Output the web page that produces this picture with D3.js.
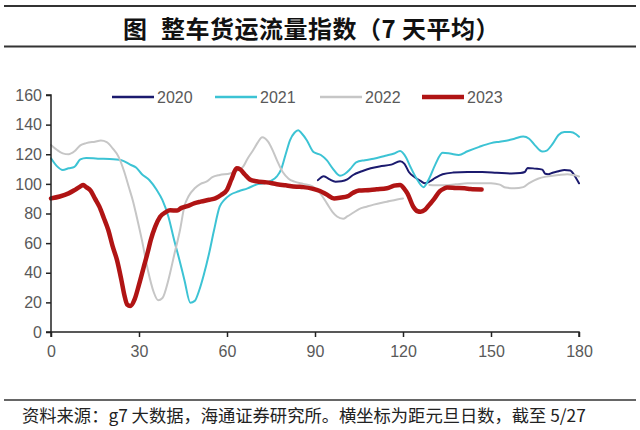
<!DOCTYPE html>
<html><head><meta charset="utf-8">
<script src="https://cdn.jsdelivr.net/npm/d3@7"></script>
<style>
html,body{margin:0;padding:0;background:#fff;}
svg{display:block;}
</style></head>
<body>
<svg id="chart" width="640" height="430"></svg>
<script>
// ---- data ----
const titleLead = "图";
const titleText = "整车货运流量指数（7 天平均）";
const sourceText = "资料来源：g7 大数据，海通证券研究所。横坐标为距元旦日数，截至 5/27";
const seriesNames = ["2020", "2021", "2022", "2023"];
const xTicks = [0, 30, 60, 90, 120, 150, 180];
const yTicks = [0, 20, 40, 60, 80, 100, 120, 140, 160];

const days2020 = [91,93,95,97,99,101,103,106,109,112,116,119,120.5,122,124,126,127.5,129,131,133.5,137,142,147,152,157,160,161.5,162.5,165,167.5,168.5,169.5,171,173,175,177,178.5,180];
const vals2020 = [102.5,105.2,103,101.5,101.8,103,106,108.5,110.5,111.8,113,115.2,113.5,108,104.5,102,100.4,101.5,104,106.5,107.6,108,108,107.5,107,107.3,108,110.8,110.3,109.6,106.8,106.5,107.5,108.5,109.4,109,105.5,100.4];

const days2021 = [0,2,4,6,8,10,12,16,20,24,27,29,31,33.5,36,38,40,42,44,45.5,47.5,49,50.5,52,54,55.5,57.5,59,61,64,67,70,72.5,75,77,78.5,80,81.5,83,84.3,85.5,87.2,89.5,92,94,96,98.5,100,102,104,107,110,114,117,119,121,122.5,124.5,127,129,131,133.5,136,139,142,146,150,153,156,158,161,163,165,167.5,169,171,173,175,177,179,180];
const vals2021 = [117.3,112,109.4,110.5,111.5,116.5,117.5,117,116.8,116,113,111,106.5,102.6,96,89,78,62,47,35,19.8,21,28,38,54,68,84.6,89,92.5,95,97,99.5,100.4,102,105,110,120,129.6,134.5,136.2,134,129.5,121.5,119.5,116,110.5,105.5,106.5,110,114.5,116,117,119,120.5,122.2,118,111.6,104,97.8,104,113,121,120.5,119.5,122,125,127.5,128.5,129.5,130.5,132,130.5,126,121.8,122.5,127,133,135,135,133.5,131.8];

const days2022 = [0,2,4,6,8,10,12,15,17,19,21,23,25,26.5,28,29.2,31,33,35,36.5,38,40,42,44,45.5,47,49,51,53,55,57.5,61,64,65.5,67,69,70.5,72,74,75.5,77,79,81,83,86,89,92,94,96,97.5,99.6,101,103,105,107.6,110,114.5,118,120,null,129,131,134,138,142,146,150,153,155,158,161,163,166,169,173,176,178,180];
const vals2022 = [126.3,123,120.6,120,122,126,127.5,128.5,129.2,128.2,124,118.4,108,98,88,78,62,42,27,21.5,23,35,52,69,85,92,97,100,101.5,104.5,106,107,109.5,111.6,117,123,128,131.5,128.5,123,116,108,103.5,101.5,100,98.5,93,87,81,78,76.5,78,80.5,83,84.6,86,88,89.5,90.2,null,99.3,99,99,99.7,100.4,100.5,100.4,99.5,97.5,97,97.8,100.5,103.5,105,106,106.5,106,105];

const days2023 = [0,3,6,8,10,11,12,13.5,15,16.5,18,19.5,21,22.5,24,25,26,27,28.5,30,31.5,33,34,35.5,37.2,39,40.6,43,44.5,46.5,49,51,54,56,58,60,61.5,63.3,64.5,66,67.8,70,73.5,77,80,83.8,86,89,91.7,94,96.5,99,101,103,105,108.8,111,114.5,117,119,120.5,121.5,123.5,125,126,127.5,129,130.5,132.5,134,135,138,141,143,146.8];
const vals2023 = [90.2,91.5,93.6,95.8,98.3,99.2,97.8,95.5,90,84.6,77,69,58,48.5,35,25,18.5,17.5,22,32,43,54,62,71,77.8,80.8,82.2,82,83.8,85,87,88,89.3,90.2,92.5,96,103,110.5,109.8,106.5,103,101.8,101,99.8,99,98.1,97.8,96.8,95.2,92.8,90.2,90.8,91.5,94,95.5,95.9,96.3,97,98.8,99.3,96.5,93.6,84.6,81.5,81.2,82.5,86,89.5,95,96.8,97.5,97.2,97,96.5,96.2];

const seriesDays = [days2020, days2021, days2022, days2023];
const seriesVals = [vals2020, vals2021, vals2022, vals2023];
const colors = ["#1b1a6e", "#3cc3d4", "#c6c6c6", "#b01414"];
const widths = [2, 2, 2, 4.5];

// ---- layout ----
const svg = d3.select("#chart");
const x = d3.scaleLinear().domain([0, 180]).range([51, 579]);
const y = d3.scaleLinear().domain([0, 160]).range([332, 95]);
const textColor = "#595959";
const latin = "'Liberation Sans', Arial, sans-serif";
const cjk = "'Noto Sans CJK SC', sans-serif";

// header rules & title
svg.append("line").attr("x1", 4).attr("x2", 636).attr("y1", 6).attr("y2", 6)
  .attr("stroke", "#333").attr("stroke-width", 2);
svg.append("line").attr("x1", 4).attr("x2", 636).attr("y1", 46.5).attr("y2", 46.5)
  .attr("stroke", "#333").attr("stroke-width", 2);
svg.append("text").attr("x", 123).attr("y", 27)
  .attr("dominant-baseline", "central")
  .attr("font-family", cjk).attr("font-weight", "bold").attr("font-size", 24)
  .attr("fill", "#111").text(titleLead);
svg.append("text").attr("x", 161).attr("y", 27)
  .attr("dominant-baseline", "central")
  .attr("font-family", cjk).attr("font-weight", "bold").attr("font-size", 24)
  .attr("letter-spacing", 0.5)
  .attr("fill", "#111").text(titleText);

// lines
seriesNames.forEach((name, i) => {
  const data = seriesDays[i].map((d, j) => ({d: d, v: seriesVals[i][j]}));
  const line = d3.line()
    .defined(p => p.d !== null && p.v !== null)
    .x(p => x(p.d)).y(p => y(p.v))
    .curve(d3.curveMonotoneX);
  svg.append("path").datum(data)
    .attr("fill", "none").attr("stroke", colors[i])
    .attr("stroke-width", widths[i]).attr("stroke-linejoin", "round").attr("stroke-linecap", "round")
    .attr("d", line);
});

// axes
const yAxis = svg.append("g").attr("transform", "translate(51,0)")
  .call(d3.axisLeft(y).tickValues(yTicks).tickSize(5).tickPadding(4));
const xAxis = svg.append("g").attr("transform", "translate(0,332)")
  .call(d3.axisBottom(x).tickValues(xTicks).tickSize(5).tickPadding(9));
[yAxis, xAxis].forEach(g => {
  g.select(".domain").attr("stroke", "#222").attr("stroke-width", 1.5);
  g.selectAll(".tick line").attr("stroke", "#222").attr("stroke-width", 1.5);
  g.selectAll(".tick text").attr("fill", textColor).attr("font-family", latin).attr("font-size", 16);
});
yAxis.select(".domain").attr("d", "M-5,95H0V332H-5");
xAxis.select(".domain").attr("d", "M51,5V0H579V5");

// legend
const legX = [112, 215, 320, 422];
seriesNames.forEach((name, i) => {
  svg.append("line").attr("x1", legX[i]).attr("x2", legX[i] + 42)
    .attr("y1", 97).attr("y2", 97)
    .attr("stroke", colors[i]).attr("stroke-width", widths[i] === 2 ? 2.5 : 4.5);
  svg.append("text").attr("x", legX[i] + 45).attr("y", 97)
    .attr("dominant-baseline", "central")
    .attr("font-family", latin).attr("font-size", 16).attr("fill", textColor)
    .text(name);
});

// footer
svg.append("line").attr("x1", 4).attr("x2", 636).attr("y1", 400).attr("y2", 400)
  .attr("stroke", "#333").attr("stroke-width", 1.5);
svg.append("text").attr("x", 22).attr("y", 414).attr("dominant-baseline", "central")
  .attr("font-family", cjk).attr("font-size", 17.3).attr("fill", "#222")
  .text(sourceText);
</script>
</body></html>
